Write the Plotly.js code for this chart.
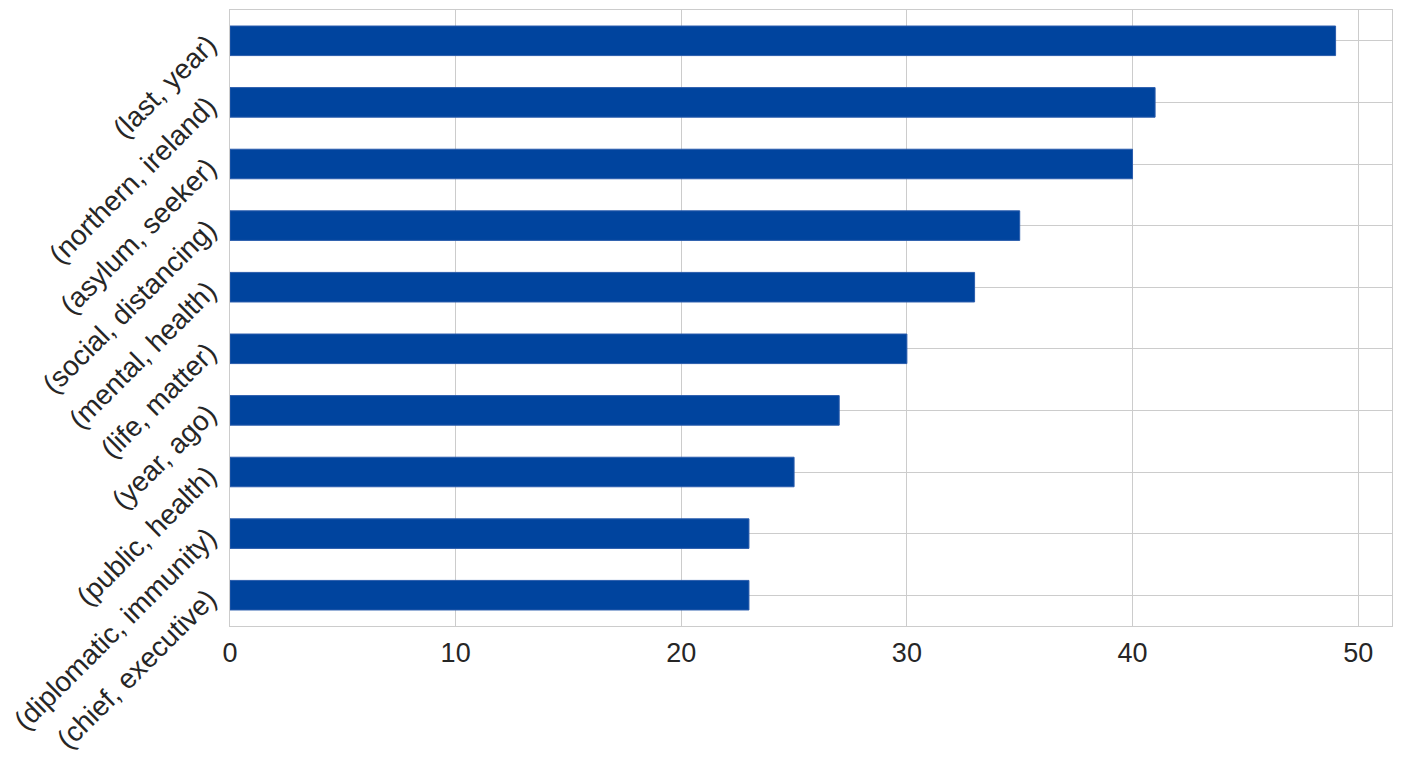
<!DOCTYPE html>
<html>
<head>
<meta charset="utf-8">
<script src="https://cdn.plot.ly/plotly-3.0.1.min.js"></script>
<style>html,body{margin:0;padding:0;background:#fff;}#chart{width:1401px;height:762px;}</style>
</head>
<body>
<div id="chart"></div>
<script>
const categories = ["(last, year)", "(northern, ireland)", "(asylum, seeker)", "(social, distancing)", "(mental, health)", "(life, matter)", "(year, ago)", "(public, health)", "(diplomatic, immunity)", "(chief, executive)"];
const counts = [49, 41, 40, 35, 33, 30, 27, 25, 23, 23];
const xTicks = [0, 10, 20, 30, 40, 50];

const trace = {
  type: 'bar',
  orientation: 'h',
  x: counts,
  y: categories,
  width: 0.48,
  marker: {color: '#00449e', line: {color: '#2a5cac', width: 1}},
  hoverinfo: 'x+y'
};

const layout = {
  width: 1401, height: 762,
  margin: {l: 230, r: 9, t: 10, b: 136},
  paper_bgcolor: '#fff', plot_bgcolor: '#fff',
  font: {family: 'Liberation Sans, Arial, sans-serif', size: 26, color: '#262626'},
  showlegend: false,
  xaxis: {
    range: [0, 51.5],
    tickvals: xTicks,
    ticktext: xTicks.map(String),
    showgrid: true, gridcolor: '#cccccc', gridwidth: 1,
    zeroline: false,
    showline: true, linecolor: '#cccccc', linewidth: 1.2, mirror: true,
    ticks: '',
    ticklabelstandoff: 2,
    tickfont: {size: 27, color: '#262626'}
  },
  yaxis: {
    type: 'category',
    categoryorder: 'array', categoryarray: categories,
    range: [9.5, -0.5],
    showgrid: true, gridcolor: '#cccccc', gridwidth: 1,
    zeroline: false,
    showline: true, linecolor: '#cccccc', linewidth: 1.2, mirror: true,
    ticks: '',
    tickangle: -45,
    ticklabelstandoff: 15,
    tickfont: {size: 28, color: '#262626'}
  }
};

Plotly.newPlot('chart', [trace], layout, {displayModeBar: false});
</script>
</body>
</html>
